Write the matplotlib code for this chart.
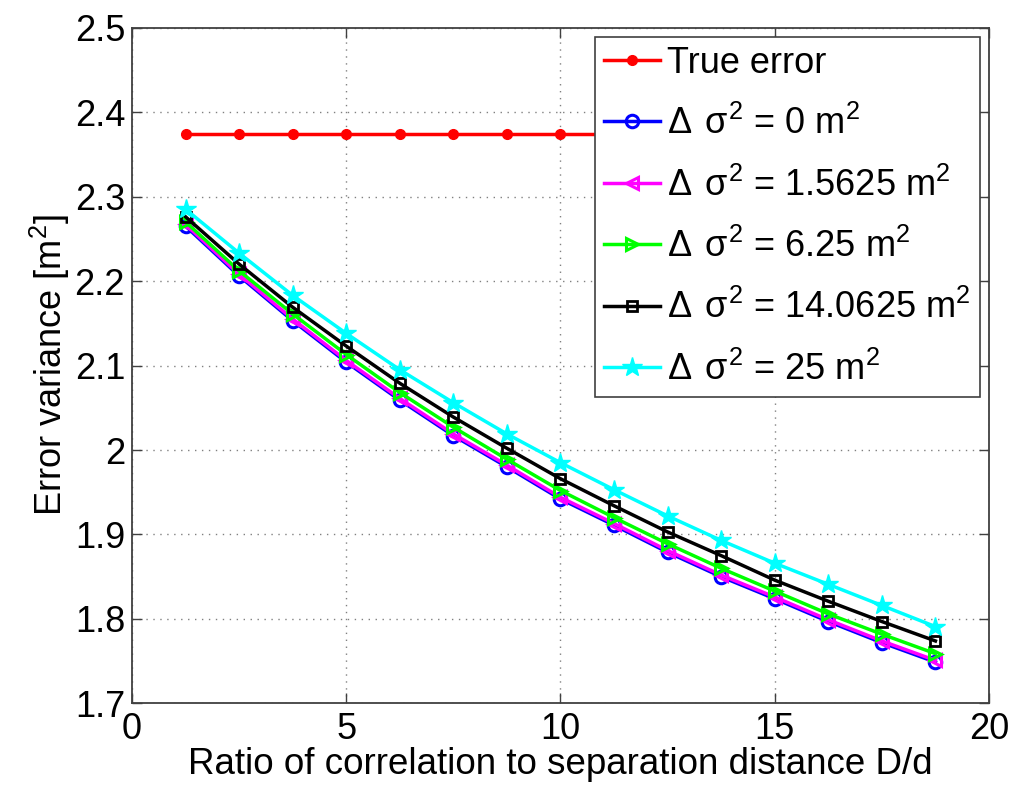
import matplotlib
matplotlib.use("Agg")
import matplotlib.pyplot as plt
import numpy as np

plt.rcParams['font.family'] = ['Liberation Sans', 'DejaVu Sans']
plt.rcParams['mathtext.fontset'] = 'custom'
plt.rcParams['mathtext.rm'] = 'Liberation Sans'
plt.rcParams['mathtext.it'] = 'Liberation Sans'
plt.rcParams['mathtext.bf'] = 'Liberation Sans:bold'

# ---- data ----
ratio = [1.25, 2.5, 3.75, 5.0, 6.25, 7.5, 8.75, 10.0, 11.25, 12.5, 13.75, 15.0, 16.25, 17.5, 18.75]
true_error = [2.374] * 15
ds0 = [2.265, 2.206, 2.153, 2.104, 2.059, 2.017, 1.980, 1.942, 1.911, 1.879, 1.850, 1.824, 1.797, 1.772, 1.749]
ds1 = [2.267, 2.208, 2.155, 2.106, 2.061, 2.019, 1.982, 1.944, 1.913, 1.881, 1.852, 1.826, 1.799, 1.774, 1.751]
ds6 = [2.270, 2.212, 2.161, 2.113, 2.068, 2.027, 1.989, 1.952, 1.920, 1.889, 1.860, 1.833, 1.806, 1.782, 1.759]
ds14 = [2.276, 2.220, 2.169, 2.123, 2.079, 2.039, 2.002, 1.966, 1.934, 1.903, 1.875, 1.846, 1.821, 1.797, 1.774]
ds25 = [2.285, 2.233, 2.183, 2.138, 2.095, 2.056, 2.019, 1.985, 1.953, 1.922, 1.893, 1.866, 1.841, 1.816, 1.791]

labels = ['True error',
          r'$\Delta\;\,\sigma^2$ = 0 m$^2$',
          r'$\Delta\;\,\sigma^2$ = 1.5625 m$^2$',
          r'$\Delta\;\,\sigma^2$ = 6.25 m$^2$',
          r'$\Delta\;\,\sigma^2$ = 14.0625 m$^2$',
          r'$\Delta\;\,\sigma^2$ = 25 m$^2$']
xticks = [0, 5, 10, 15, 20]
yticks = [1.7, 1.8, 1.9, 2.0, 2.1, 2.2, 2.3, 2.4, 2.5]
yticklabels = ['1.7', '1.8', '1.9', '2', '2.1', '2.2', '2.3', '2.4', '2.5']

fig = plt.figure(figsize=(10.24, 8.05), dpi=100)
ax = fig.add_axes([0.1289, 0.1261, 0.8369, 0.8397])

lw = 2.5
ax.plot(ratio, true_error, color='#ff0000', lw=lw, marker='o', ms=7, mfc='#ff0000', mec='#ff0000', label=labels[0], zorder=3)
ax.plot(ratio, ds0, color='#0000ff', lw=lw, marker='o', ms=9, mfc='none', mec='#0000ff', mew=2.2, label=labels[1], zorder=3)
ax.plot(ratio, ds1, color='#ff00ff', lw=lw, marker='<', ms=9, mfc='none', mec='#ff00ff', mew=2.2, label=labels[2], zorder=3)
ax.plot(ratio, ds6, color='#00ff00', lw=lw, marker='>', ms=9, mfc='none', mec='#00ff00', mew=2.2, label=labels[3], zorder=3)
ax.plot(ratio, ds14, color='#000000', lw=lw, marker='s', ms=7, mfc='none', mec='#000000', mew=2.0, label=labels[4], zorder=3)
ax.plot(ratio, ds25, color='#00ffff', lw=lw, marker='*', ms=15, mfc='#00ffff', mec='#00ffff', label=labels[5], zorder=3)

ax.set_xlim(0, 20)
ax.set_ylim(1.7, 2.5)
ax.set_xticks(xticks)
ax.set_xticklabels([str(v) for v in xticks])
ax.set_yticks(yticks)
ax.set_yticklabels(yticklabels)
ax.tick_params(direction='in', length=7, width=1, labelsize=26, top=True, right=True,
               colors='#404040', labelcolor='black')
ax.tick_params(axis='x', pad=6)
ax.tick_params(axis='y', pad=5)
ax.grid(True, linestyle=(0, (1, 4)), color='#808080', linewidth=1)
for s in ax.spines.values():
    s.set_color('#404040')
    s.set_linewidth(1.3)

ax.set_xlabel('Ratio of correlation to separation distance D/d', fontsize=26.5, labelpad=0)
ax.set_ylabel('Error variance [m$^2$]', fontsize=26, labelpad=2)

leg = ax.legend(loc='upper right', fontsize=26, frameon=True, fancybox=False, framealpha=1,
                edgecolor='#404040', handlelength=1.55, handletextpad=0.2, labelspacing=0.7,
                borderpad=0.25, borderaxespad=0.25)
leg.get_frame().set_linewidth(1.2)

fig.savefig('out.png', dpi=100)
